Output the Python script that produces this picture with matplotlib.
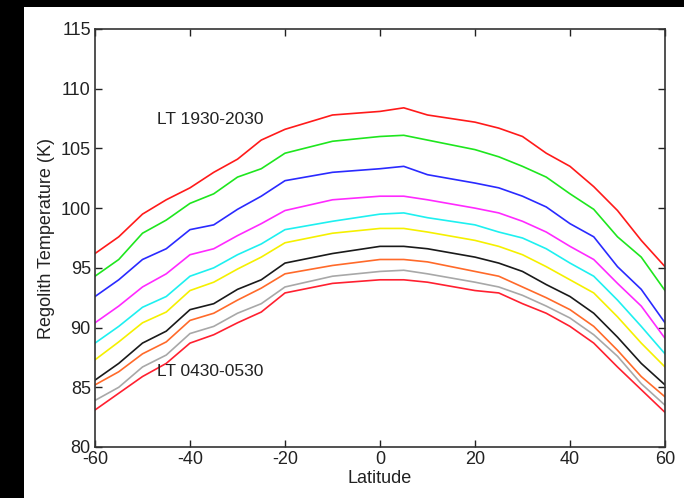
import numpy as np
import matplotlib.pyplot as plt
from matplotlib.patches import Rectangle

plt.rcParams['font.family'] = ['Liberation Sans', 'DejaVu Sans']
plt.rcParams['axes.unicode_minus'] = False

# latitude grid (deg) and curves (K)
latitude = [-60, -55, -50, -45, -40, -35, -30, -25, -20, -10, 0, 5, 10,
            20, 25, 30, 35, 40, 45, 50, 55, 60]
lt_1930 = [96.2, 97.6, 99.5, 100.7, 101.7, 103.0, 104.1, 105.7, 106.6, 107.8, 108.1,
           108.4, 107.8, 107.2, 106.7, 106.0, 104.6, 103.5, 101.8, 99.8, 97.3, 95.1]
lt_2 = [94.3, 95.7, 97.9, 99.0, 100.4, 101.2, 102.6, 103.3, 104.6, 105.6, 106.0,
        106.1, 105.7, 104.9, 104.3, 103.5, 102.6, 101.2, 99.9, 97.6, 95.9, 93.1]
lt_3 = [92.6, 94.0, 95.7, 96.6, 98.2, 98.6, 99.9, 101.0, 102.3, 103.0, 103.3,
        103.5, 102.8, 102.1, 101.7, 101.0, 100.1, 98.7, 97.6, 95.1, 93.2, 90.4]
lt_4 = [90.4, 91.8, 93.4, 94.5, 96.1, 96.6, 97.7, 98.7, 99.8, 100.7, 101.0,
        101.0, 100.7, 100.0, 99.6, 98.9, 98.0, 96.8, 95.7, 93.7, 91.8, 89.1]
lt_5 = [88.7, 90.1, 91.7, 92.6, 94.3, 95.0, 96.1, 97.0, 98.2, 98.9, 99.5,
        99.6, 99.2, 98.6, 98.0, 97.5, 96.6, 95.4, 94.3, 92.3, 90.1, 87.8]
lt_6 = [87.3, 88.8, 90.4, 91.3, 93.1, 93.8, 94.9, 95.9, 97.1, 97.9, 98.3,
        98.3, 98.0, 97.3, 96.8, 96.1, 95.1, 94.0, 92.9, 90.9, 88.7, 86.7]
lt_7 = [85.6, 87.0, 88.7, 89.7, 91.5, 92.0, 93.2, 94.0, 95.4, 96.2, 96.8,
        96.8, 96.6, 95.9, 95.4, 94.7, 93.6, 92.6, 91.2, 89.2, 87.0, 85.2]
lt_8 = [85.2, 86.3, 87.8, 88.8, 90.6, 91.2, 92.3, 93.3, 94.5, 95.2, 95.7,
        95.7, 95.5, 94.7, 94.3, 93.4, 92.5, 91.5, 90.1, 88.1, 85.9, 84.2]
lt_9 = [83.9, 85.0, 86.7, 87.7, 89.5, 90.1, 91.2, 92.0, 93.4, 94.3, 94.7,
        94.8, 94.5, 93.8, 93.4, 92.7, 91.8, 90.8, 89.4, 87.6, 85.3, 83.5]
lt_0430 = [83.1, 84.5, 85.9, 87.0, 88.7, 89.4, 90.4, 91.3, 92.9, 93.7, 94.0,
           94.0, 93.8, 93.1, 92.9, 92.0, 91.2, 90.1, 88.7, 86.7, 84.8, 82.9]

series = [lt_1930, lt_2, lt_3, lt_4, lt_5, lt_6, lt_7, lt_8, lt_9, lt_0430]
colors = ['#ff1a1a', '#1ee61e', '#2a2aff', '#ff2aff', '#1ef0f0',
          '#f5f000', '#1a1a1a', '#ff6a2a', '#a8a8a8', '#ff2030']

fig = plt.figure(figsize=(6.84, 4.98), dpi=100, facecolor='black')
# white canvas with the black strips at top and left
fig.patches.append(Rectangle((24 / 684, 0), 1 - 24 / 684, 491 / 498,
                             transform=fig.transFigure, facecolor='white',
                             edgecolor='none', zorder=-10))

ax = fig.add_axes([95 / 684, 51 / 498, 570 / 684, 418 / 498])
for vals, c in zip(series, colors):
    ax.plot(latitude, vals, color=c, linewidth=1.2)

ax.text(-47, 107.4, 'LT 1930-2030', fontsize=12.5, color='#222222', va='center')
ax.text(-47, 86.3, 'LT 0430-0530', fontsize=12.5, color='#222222', va='center')

ax.set_xlim(-60, 60)
ax.set_ylim(80, 115)
ax.set_xticks(np.arange(-60, 61, 20))
ax.set_yticks(np.arange(80, 116, 5))
ax.tick_params(direction='in', top=True, right=True, length=5, width=1,
               labelsize=13, colors='#222222', pad=3)
for s in ax.spines.values():
    s.set_linewidth(1.2)
    s.set_color('#333333')
ax.set_xlabel('Latitude', fontsize=13, color='#222222', labelpad=1)
ax.set_ylabel('Regolith Temperature (K)', fontsize=13, color='#222222', labelpad=4)

plt.savefig('out.png', dpi=100, facecolor=fig.get_facecolor())
